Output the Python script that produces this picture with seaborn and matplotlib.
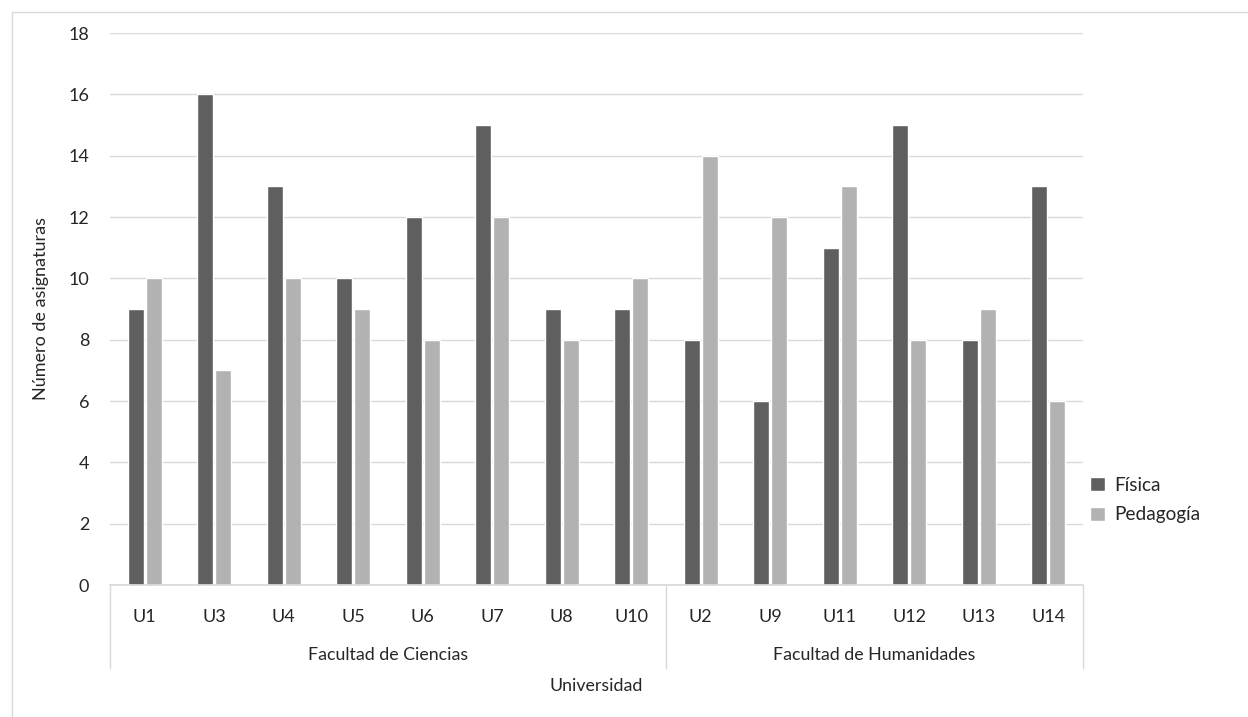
import pandas as pd
import seaborn as sns
from matplotlib import pyplot as plt
from matplotlib.patches import Rectangle

# data
universidades = ["U1", "U3", "U4", "U5", "U6", "U7", "U8", "U10",
                 "U2", "U9", "U11", "U12", "U13", "U14"]
fisica = [9, 16, 13, 10, 12, 15, 9, 9, 8, 6, 11, 15, 8, 13]
pedagogia = [10, 7, 10, 9, 8, 12, 8, 10, 14, 12, 13, 8, 9, 6]
facultades = ["Facultad de Ciencias", "Facultad de Humanidades"]
n_por_facultad = [8, 6]
series = ["Física", "Pedagogía"]
colores = ["#5f5f5f", "#b2b2b2"]

df = pd.DataFrame({
    "Universidad": universidades * 2,
    "Asignatura": [series[0]] * len(universidades) + [series[1]] * len(universidades),
    "Valor": fisica + pedagogia,
})

sns.set_theme(style="white")
plt.rcParams["font.family"] = ["Lato", "DejaVu Sans"]

fig = plt.figure(figsize=(12.48, 7.17), dpi=100)
ax = fig.add_axes([110 / 1248, 132 / 717, (1083 - 110) / 1248, (585 - 33) / 717])

sns.barplot(data=df, x="Universidad", y="Valor", hue="Asignatura",
            palette=colores, width=0.52, gap=0.12, ax=ax, saturation=1)

ax.set_ylim(0, 18)
ax.set_yticks(range(0, 19, 2))
ax.set_xlim(-0.5, len(universidades) - 0.5)
ax.yaxis.grid(True, color="#d9d9d9", linewidth=1)
ax.set_axisbelow(True)
for side in ["top", "right", "left"]:
    ax.spines[side].set_visible(False)
ax.spines["bottom"].set_color("#d9d9d9")
ax.tick_params(axis="x", length=0, pad=17, labelsize=13, colors="#262626")
ax.tick_params(axis="y", length=0, pad=15, labelsize=13, colors="#262626")
ax.set_xlabel("")
ax.set_ylabel("Número de asignaturas", fontsize=13, color="#262626", labelpad=14)

# category group dividers and labels
trans = ax.get_xaxis_transform()
bordes = [-0.5]
for n in n_por_facultad:
    bordes.append(bordes[-1] + n)
for b in bordes:
    ax.plot([b, b], [0, -0.15], transform=trans, color="#d9d9d9", linewidth=1, clip_on=False)
for i, fac in enumerate(facultades):
    centro = (bordes[i] + bordes[i + 1]) / 2
    ax.text(centro, -0.127, fac, transform=trans, ha="center", va="center",
            fontsize=12.8, color="#262626")
ax.text(0.5, -0.183, "Universidad", transform=ax.transAxes, ha="center", va="center",
        fontsize=12.8, color="#262626")

leg = ax.legend(loc="center left", bbox_to_anchor=(0.99, 0.154), frameon=False,
                fontsize=13.7, handlelength=0.75, handleheight=0.75, handletextpad=0.5,
                labelspacing=0.65, title=None)

# outer chart border
fig.patches.append(Rectangle((12 / 1248, -0.05), 1.1, 1 - 12 / 717 + 0.05,
                             transform=fig.transFigure, fill=False,
                             edgecolor="#d9d9d9", linewidth=1))

plt.savefig("out.png", dpi=100)
